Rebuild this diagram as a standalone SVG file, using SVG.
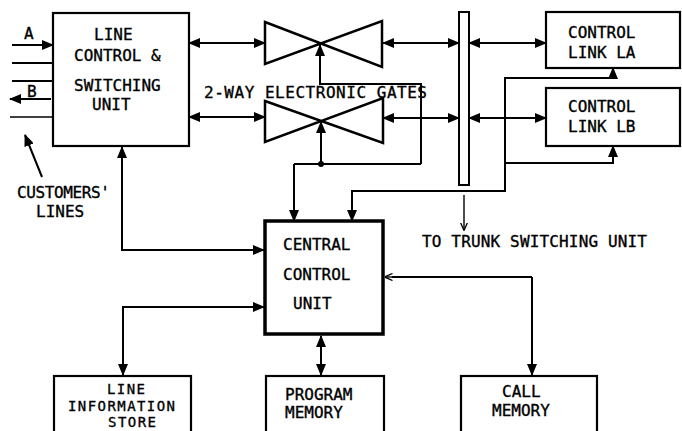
<svg xmlns="http://www.w3.org/2000/svg" width="682" height="431" viewBox="0 0 682 431">
<defs>
<marker id="ah" markerUnits="userSpaceOnUse" markerWidth="12" markerHeight="10" refX="11" refY="5" orient="auto-start-reverse">
<path d="M0,0 L12,5 L0,10 Z" fill="#000"/>
</marker>
<marker id="ahs" markerUnits="userSpaceOnUse" markerWidth="8" markerHeight="8" refX="7.5" refY="4" orient="auto-start-reverse">
<path d="M0,0.5 L8,4 L0,7.5" fill="none" stroke="#000" stroke-width="1.3"/>
</marker>
</defs>
<style>
.box{fill:#fff;stroke:#000;stroke-width:2.2}
.thick{fill:#fff;stroke:#000;stroke-width:3.5}
.t{font-family:"DejaVu Sans Mono","Liberation Mono",monospace;font-size:16px;fill:#000;stroke:#000;stroke-width:0.35}
.s{font-size:14px}
.c{fill:none;stroke:#000;stroke-width:2}
.cs{fill:none;stroke:#000;stroke-width:1.4}
.e{marker-end:url(#ah)}
.b{marker-start:url(#ah);marker-end:url(#ah)}
.gate{fill:none;stroke:#000;stroke-width:2.5;stroke-linejoin:miter}
</style>
<rect width="682" height="431" fill="#fff"/>

<g id="connectors">
<line class="c e" x1="12" y1="45" x2="53" y2="45"/>
<line class="c" x1="12" y1="63" x2="53" y2="63"/>
<line class="c" x1="12" y1="81" x2="53" y2="81"/>
<line class="c e" x1="51" y1="99" x2="10" y2="99"/>
<line class="cs" x1="10" y1="117" x2="52" y2="117"/>
<line class="c e" x1="42" y1="177" x2="25" y2="135"/>
<line class="c b" x1="189" y1="43" x2="265" y2="43"/>
<line class="c b" x1="189" y1="117" x2="265" y2="117"/>
<line class="c b" x1="383" y1="43" x2="459" y2="43"/>
<line class="c b" x1="383" y1="118" x2="459" y2="118"/>
<line class="c b" x1="469" y1="43" x2="546" y2="43"/>
<line class="c b" x1="469" y1="118" x2="546" y2="118"/>
<line class="cs" x1="464" y1="195" x2="464" y2="230" marker-end="url(#ahs)"/>
<polyline class="c e" points="421,164 421,84 320,84 320,45"/>
<polyline class="c" points="294,164 421,164"/>
<line class="c e" x1="321" y1="164" x2="321" y2="122"/>
<circle cx="321" cy="164" r="3" fill="#000"/>
<polyline class="c e" points="294,164 294,221"/>
<polyline class="c b" points="352,221 352,191 505,191 505,78 613,78 613,68"/>
<polyline class="c e" points="505,163 613,163 613,146"/>
<polyline class="c b" points="122,147 122,250 264,250"/>
<polyline class="c b" points="264,307 123,307 123,375"/>
<line class="c b" x1="321" y1="336" x2="321" y2="375"/>
<polyline class="c e" points="532,277 532,375"/>
<line class="c" x1="532" y1="277" x2="392" y2="277"/>
<line class="cs" x1="392" y1="277" x2="385" y2="277" marker-end="url(#ahs)"/>
</g>

<g id="lcsu">
<rect class="box" x="53" y="13" width="136" height="133"/>
<text class="t" x="94" y="40">LINE</text>
<text class="t" x="74" y="61">CONTROL &amp;</text>
<text class="t" x="74" y="91">SWITCHING</text>
<text class="t" x="92" y="110">UNIT</text>
</g>

<g id="customers">
<text class="t" x="24" y="39">A</text>
<text class="t" x="27" y="97">B</text>
<text class="t" x="17" y="198" textLength="93">CUSTOMERS'</text>
<text class="t" x="36" y="217">LINES</text>
</g>

<g id="gate-top">
<path class="gate" d="M265,22 L382,67 L382,21 L265,64 Z"/>
</g>
<g id="gate-bottom">
<path class="gate" d="M265,101 L383,143 L383,98 L265,142 Z"/>
</g>
<g id="gates-label">
<text class="t" x="204" y="98" textLength="223">2-WAY ELECTRONIC GATES</text>
</g>

<g id="bus">
<rect x="459" y="12" width="10" height="173" fill="#fff" stroke="#000" stroke-width="2"/>
</g>
<g id="trunk-label">
<text class="t" x="422" y="247" textLength="225">TO TRUNK SWITCHING UNIT</text>
</g>

<g id="link-la">
<rect class="box" x="546" y="12" width="134" height="56"/>
<text class="t" x="568" y="38">CONTROL</text>
<text class="t" x="568" y="58">LINK LA</text>
</g>
<g id="link-lb">
<rect class="box" x="546" y="88" width="134" height="58"/>
<text class="t" x="568" y="112">CONTROL</text>
<text class="t" x="568" y="132">LINK LB</text>
</g>

<g id="ccu">
<rect class="thick" x="265" y="221" width="118" height="113"/>
<text class="t" x="283" y="250">CENTRAL</text>
<text class="t" x="283" y="280">CONTROL</text>
<text class="t" x="293" y="309">UNIT</text>
</g>

<g id="lis">
<rect class="box" x="54" y="376" width="137" height="60"/>
<text class="t s" x="107" y="394" textLength="38">LINE</text>
<text class="t s" x="68" y="411" textLength="107">INFORMATION</text>
<text class="t s" x="108" y="427" textLength="48">STORE</text>
</g>
<g id="pm">
<rect class="box" x="266" y="376" width="118" height="60"/>
<text class="t" x="285" y="400">PROGRAM</text>
<text class="t" x="285" y="418">MEMORY</text>
</g>
<g id="cm">
<rect class="box" x="461" y="376" width="136" height="60"/>
<text class="t" x="502" y="397">CALL</text>
<text class="t" x="492" y="416">MEMORY</text>
</g>
</svg>
